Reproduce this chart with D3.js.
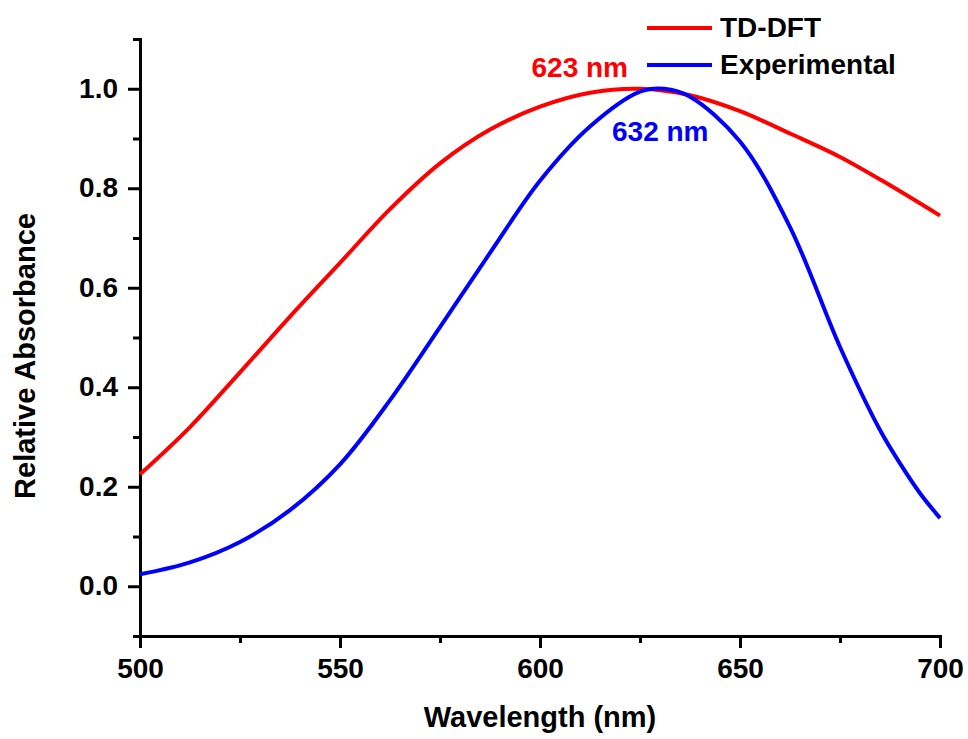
<!DOCTYPE html>
<html>
<head>
<meta charset="utf-8">
<script src="https://cdn.jsdelivr.net/npm/d3@7"></script>
<style>
  body { margin: 0; background: #fff; }
  svg { font-family: "Liberation Sans", Arial, sans-serif; font-weight: bold; }
  .axis path, .axis line { stroke: #000; stroke-width: 3; }
  .axis text { font-size: 28px; font-weight: bold; fill: #000; }
</style>
</head>
<body>
<div id="chart"></div>
<script>
// wavelengths (nm) and relative absorbance
const tdWavelength = [500, 512.5, 525, 537.5, 550, 562.5, 575, 587.5, 600, 612.5, 625, 637.5, 650, 662.5, 675, 687.5, 700]
const tdAbsorbance = [0.225, 0.320, 0.430, 0.542, 0.650, 0.758, 0.850, 0.918, 0.964, 0.992, 1.0, 0.987, 0.955, 0.910, 0.863, 0.806, 0.745]

const expWavelength = [500, 512.5, 525, 537.5, 550, 562.5, 575, 587.5, 600, 612.5, 625, 631, 637.5, 650, 662.5, 675, 685, 690, 695, 700]
const expAbsorbance = [0.024, 0.048, 0.089, 0.153, 0.245, 0.374, 0.521, 0.670, 0.815, 0.924, 0.994, 1.0, 0.984, 0.894, 0.722, 0.481, 0.314, 0.247, 0.187, 0.137]

const xMajorTicks = [500, 550, 600, 650, 700]
const xMinorTicks = [525, 575, 625, 675]
const yMajorTicks = [0.0, 0.2, 0.4, 0.6, 0.8, 1.0]
const yMinorTicks = [-0.1, 0.1, 0.3, 0.5, 0.7, 0.9, 1.1]

const seriesNames = ['TD-DFT', 'Experimental']
const seriesColors = ['#ff0000', '#0000ff']
const peakLabels = ['623 nm', '632 nm']

const width = 968
const height = 739

const svg = d3.select('#chart')
  .append('svg')
  .attr('width', width)
  .attr('height', height)

const x = d3.scaleLinear().domain([500, 700]).range([140, 940])
const y = d3.scaleLinear().domain([-0.1, 1.1]).range([636, 39])

// axes: major ticks with labels, minor ticks without
svg.append('g')
  .classed('axis', true)
  .attr('transform', `translate(0, ${y(-0.1)})`)
  .call(d3.axisBottom(x).tickValues(xMajorTicks).tickFormat(d3.format('d')).tickSize(12).tickSizeOuter(0).tickPadding(10))
  .call(g => g.select('.domain').attr('stroke-width', 3.5).attr('stroke-linecap', 'square'))

svg.append('g')
  .classed('axis', true)
  .attr('transform', `translate(0, ${y(-0.1)})`)
  .call(d3.axisBottom(x).tickValues(xMinorTicks).tickFormat('').tickSize(7))
  .call(g => g.select('.domain').remove())

svg.append('g')
  .classed('axis', true)
  .attr('transform', `translate(${x(500)}, 0)`)
  .call(d3.axisLeft(y).tickValues(yMajorTicks).tickFormat(d3.format('.1f')).tickSize(12).tickSizeOuter(0).tickPadding(10))
  .call(g => g.select('.domain').attr('stroke-width', 3.5).attr('stroke-linecap', 'square'))
  .call(g => g.selectAll('text').attr('dy', '0.3em'))

svg.append('g')
  .classed('axis', true)
  .attr('transform', `translate(${x(500)}, 0)`)
  .call(d3.axisLeft(y).tickValues(yMinorTicks).tickFormat('').tickSize(7))
  .call(g => g.select('.domain').remove())

// curves
const line = d3.line()
  .x(d => x(d[0]))
  .y(d => y(d[1]))
  .curve(d3.curveCatmullRom.alpha(0.5))

const series = [
  d3.zip(tdWavelength, tdAbsorbance),
  d3.zip(expWavelength, expAbsorbance)
]

svg.append('g')
  .selectAll('path')
  .data(series)
  .enter()
  .append('path')
  .attr('d', line)
  .attr('fill', 'none')
  .attr('stroke', (d, i) => seriesColors[i])
  .attr('stroke-width', 4)

// peak labels
svg.append('text')
  .attr('x', 628)
  .attr('y', 77)
  .attr('text-anchor', 'end')
  .attr('font-size', 28)
  .attr('fill', seriesColors[0])
  .text(peakLabels[0])

svg.append('text')
  .attr('x', 612)
  .attr('y', 141)
  .attr('font-size', 28)
  .attr('fill', seriesColors[1])
  .text(peakLabels[1])

// legend
const legend = svg.append('g')
  .selectAll('g')
  .data(seriesNames)
  .enter()
  .append('g')
  .attr('transform', (d, i) => `translate(647, ${28 + i * 37})`)

legend.append('line')
  .attr('x1', 0)
  .attr('x2', 65)
  .attr('stroke', (d, i) => seriesColors[i])
  .attr('stroke-width', 4)

legend.append('text')
  .attr('x', 73)
  .attr('y', 9)
  .attr('font-size', 28)
  .attr('fill', '#000')
  .text(d => d)

// axis titles
svg.append('text')
  .attr('x', x(600))
  .attr('y', 727)
  .attr('text-anchor', 'middle')
  .attr('font-size', 29)
  .text('Wavelength (nm)')

svg.append('text')
  .attr('transform', 'translate(35, 356) rotate(-90)')
  .attr('text-anchor', 'middle')
  .attr('font-size', 29)
  .text('Relative Absorbance')
</script>
</body>
</html>
